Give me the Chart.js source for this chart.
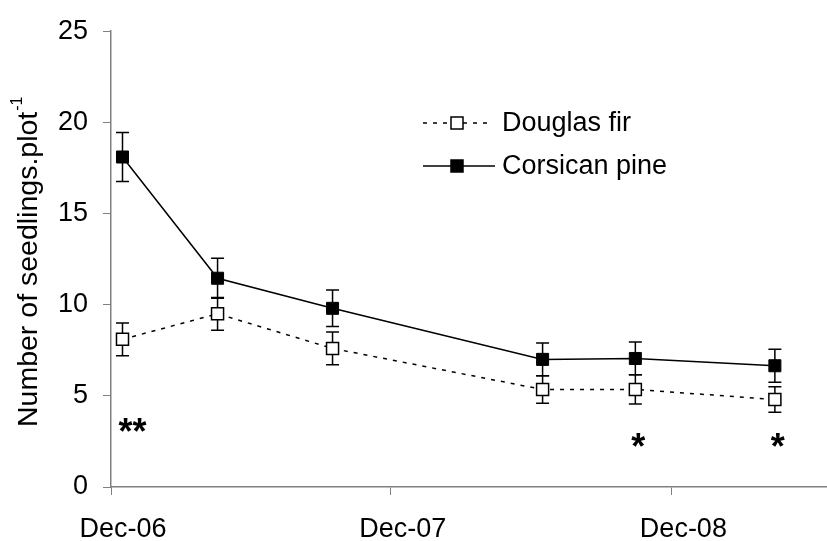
<!DOCTYPE html>
<html>
<head>
<meta charset="utf-8">
<script src="https://cdn.jsdelivr.net/npm/chart.js@4.4.1/dist/chart.umd.min.js"></script>
<style>
  html, body { margin: 0; padding: 0; background: #fff; }
  #wrap { width: 827px; height: 541px; }
</style>
</head>
<body>
<div id="wrap"><canvas id="chart" width="827" height="541"></canvas></div>
<script>
// Données
const sampleDates = ['2006-12-16', '2007-04-19', '2007-09-16', '2008-06-16', '2008-10-15', '2009-04-15'];
const douglasFir = [8.1, 9.5, 7.6, 5.35, 5.35, 4.8];
const douglasErr = [0.9, 0.9, 0.9, 0.75, 0.8, 0.7];
const corsicanPine = [18.1, 11.45, 9.8, 7.0, 7.05, 6.65];
const corsicanErr = [1.35, 1.1, 1.0, 0.9, 0.9, 0.9];
const sigMarks = ['**', '', '', '', '*', '*'];
const sigLevels = [3.45, null, null, null, 2.6, 2.6];
const xTickDates = ['2006-12-01', '2007-12-01', '2008-12-01'];
const xTickLabels = ['Dec-06', 'Dec-07', 'Dec-08'];
const yTicks = [0, 5, 10, 15, 20, 25];
const axisEndDate = '2009-06-22';

const FONT = "'Liberation Sans', Arial, sans-serif";
const AXIS_GREY = '#808080';

// jours écoulés depuis le début de l'axe
const origin = Date.UTC(2006, 11, 1);
function toDays(s) {
    const p = s.split('-').map(Number);
    return (Date.UTC(p[0], p[1] - 1, p[2]) - origin) / 864e5;
}
const sampleDays = sampleDates.map(toDays);
const xTickDays = xTickDates.map(toDays);

function points(values) {
    return values.map((v, i) => ({ x: sampleDays[i], y: v }));
}

// Barres d'erreur (dessinées sous les marqueurs)
const errorBars = {
    id: 'errorBars',
    beforeDatasetsDraw(chart) {
        const ctx = chart.ctx;
        const xs = chart.scales.x, ys = chart.scales.y;
        const sets = [[douglasFir, douglasErr], [corsicanPine, corsicanErr]];
        ctx.save();
        ctx.strokeStyle = '#000';
        ctx.lineWidth = 1.5;
        sets.forEach(([vals, errs]) => {
            vals.forEach((v, i) => {
                const x = xs.getPixelForValue(sampleDays[i]);
                const top = ys.getPixelForValue(v + errs[i]);
                const bot = ys.getPixelForValue(v - errs[i]);
                ctx.beginPath();
                ctx.moveTo(x, top); ctx.lineTo(x, bot);
                ctx.moveTo(x - 6.5, top); ctx.lineTo(x + 6.5, top);
                ctx.moveTo(x - 6.5, bot); ctx.lineTo(x + 6.5, bot);
                ctx.stroke();
            });
        });
        ctx.restore();
    }
};

// Titre de l'axe Y avec exposant, astérisques et légende
const decorations = {
    id: 'decorations',
    afterDraw(chart) {
        const ctx = chart.ctx;
        const xs = chart.scales.x, ys = chart.scales.y;
        ctx.save();

        // titre Y
        ctx.translate(29, 427);
        ctx.rotate(-Math.PI / 2);
        ctx.fillStyle = '#000';
        ctx.textBaseline = 'middle';
        ctx.textAlign = 'left';
        ctx.font = '28.5px ' + FONT;
        const main = 'Number of seedlings.plot';
        ctx.fillText(main, 0, 0);
        const w = ctx.measureText(main).width;
        ctx.font = '16px ' + FONT;
        ctx.fillText('-1', w + 1, -11);
        ctx.setTransform(1, 0, 0, 1, 0, 0);

        // astérisques
        ctx.font = 'bold 36px ' + FONT;
        ctx.textBaseline = 'alphabetic';
        ctx.textAlign = 'left';
        sigMarks.forEach((m, i) => {
            if (!m) return;
            const x = xs.getPixelForValue(sampleDays[i]);
            const y = ys.getPixelForValue(sigLevels[i]);
            ctx.fillText(m, x - 4, y + 0.55 * 36);
        });

        // légende
        const rows = [
            { label: 'Douglas fir', dash: [4, 6], fill: '#fff', y: 123, x2: 489 },
            { label: 'Corsican pine', dash: [], fill: '#000', y: 166, x2: 495 }
        ];
        rows.forEach(r => {
            ctx.strokeStyle = '#000';
            ctx.lineWidth = 1.5;
            ctx.setLineDash(r.dash);
            ctx.beginPath();
            ctx.moveTo(423, r.y); ctx.lineTo(r.x2, r.y);
            ctx.stroke();
            ctx.setLineDash([]);
            ctx.fillStyle = r.fill;
            ctx.fillRect(451, r.y - 6, 12, 12);
            ctx.strokeRect(451, r.y - 6, 12, 12);
            ctx.fillStyle = '#000';
            ctx.font = '27px ' + FONT;
            ctx.textBaseline = 'middle';
            ctx.fillText(r.label, 502, r.y + 1);
        });
        ctx.restore();
    }
};

new Chart(document.getElementById('chart'), {
    type: 'line',
    data: {
        datasets: [{
            label: 'Douglas fir',
            data: points(douglasFir),
            borderColor: '#000',
            borderWidth: 1.5,
            borderDash: [4, 6],
            pointStyle: 'rect',
            pointRadius: 8.5,
            pointBackgroundColor: '#fff',
            pointBorderColor: '#000',
            pointBorderWidth: 1.5,
            tension: 0
        }, {
            label: 'Corsican pine',
            data: points(corsicanPine),
            borderColor: '#000',
            borderWidth: 1.5,
            pointStyle: 'rect',
            pointRadius: 8.5,
            pointBackgroundColor: '#000',
            pointBorderColor: '#000',
            pointBorderWidth: 1,
            tension: 0
        }]
    },
    options: {
        responsive: false,
        animation: false,
        layout: { autoPadding: false, padding: { top: 27, right: 0, left: 0, bottom: 0 } },
        plugins: {
            legend: { display: false },
            tooltip: { enabled: false }
        },
        scales: {
            x: {
                type: 'linear',
                min: 0,
                max: toDays(axisEndDate),
                afterBuildTicks: (scale) => { scale.ticks = xTickDays.map(v => ({ value: v })); },
                afterFit: (scale) => { scale.height = 54; },
                grid: { drawOnChartArea: false, drawTicks: true, tickLength: 8, color: AXIS_GREY },
                border: { color: AXIS_GREY, width: 1.5 },
                ticks: {
                    color: '#000',
                    font: { family: FONT, size: 27 },
                    padding: 18,
                    labelOffset: 12,
                    maxRotation: 0,
                    autoSkip: false,
                    callback: (v) => {
                        const k = xTickDays.indexOf(v);
                        return k >= 0 ? xTickLabels[k] : '';
                    }
                }
            },
            y: {
                min: 0,
                max: 25,
                afterBuildTicks: (scale) => { scale.ticks = yTicks.map(v => ({ value: v })); },
                afterFit: (scale) => { scale.width = 111; },
                grid: { drawOnChartArea: false, drawTicks: true, tickLength: 8, color: AXIS_GREY },
                border: { color: AXIS_GREY, width: 1.5 },
                ticks: {
                    color: '#000',
                    font: { family: FONT, size: 27 },
                    padding: 15
                }
            }
        }
    },
    plugins: [errorBars, decorations]
});
</script>
</body>
</html>
